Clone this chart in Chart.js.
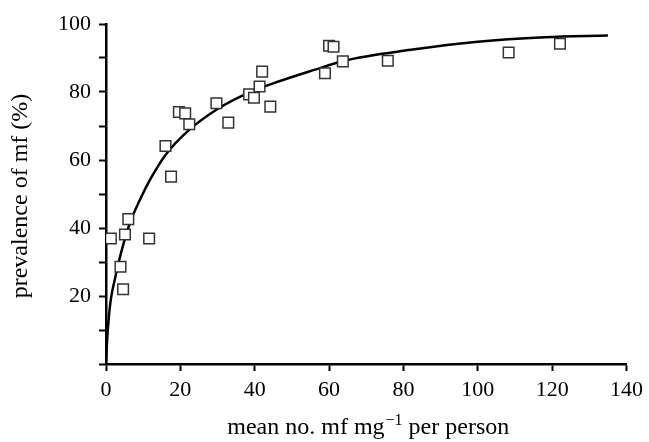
<!DOCTYPE html>
<html>
<head>
<meta charset="utf-8">
<script src="https://cdn.jsdelivr.net/npm/chart.js@4/dist/chart.umd.min.js"></script>
<style>
  html, body { margin: 0; padding: 0; background: #fff; }
  #wrap { width: 649px; height: 442px; }
</style>
</head>
<body>
<div id="wrap"><canvas id="chart" width="649" height="442"></canvas></div>
<script>
// observed villages: mean mf per mg vs prevalence (%)
const meanMf = [1.3, 3.9, 4.6, 5.1, 6.0, 11.6, 16.0, 17.5, 19.6, 21.3, 22.4, 29.7, 32.9,
  38.5, 39.8, 41.3, 42.0, 44.2, 58.9, 60.0, 61.2, 63.7, 75.8, 108.3, 122.1];
const prevalence = [36.9, 28.6, 22.0, 38.1, 42.6, 36.9, 64.1, 55.1, 74.1, 73.7, 70.5, 76.7, 71.0,
  79.3, 78.3, 81.6, 86.0, 75.7, 85.5, 93.6, 93.3, 89.0, 89.2, 91.6, 94.2];

// fitted curve
const curveX = [0, 0.3, 0.7, 1.3, 2.5, 4, 6.4, 9, 12, 16, 22, 30, 38, 47, 56, 64, 82, 100, 118, 135];
const curveY = [0, 7, 13, 19, 25.5, 32.5, 41.4, 48, 54.5, 61.5, 68.5, 75, 79.6, 83.3, 86.5, 89.2, 92.4, 94.8, 96.1, 96.6];

const xTicks = [0, 20, 40, 60, 80, 100, 120, 140];
const yTicks = [0, 20, 40, 60, 80, 100];

const serif = '"Liberation Serif", "Times New Roman", serif';

const axisTitles = {
  id: "axisTitles",
  afterDraw(chart) {
    const ctx = chart.ctx;
    ctx.save();
    ctx.fillStyle = "#000";
    ctx.textBaseline = "alphabetic";
    ctx.textAlign = "left";

    // x title, with superscript -1
    const mainFont = "24px " + serif;
    const supFont = "16px " + serif;
    const a = "mean no. mf mg";
    const sup = "\u22121";
    const b = " per person";
    ctx.font = mainFont;
    const wa = ctx.measureText(a).width;
    const wb = ctx.measureText(b).width;
    ctx.font = supFont;
    const ws = ctx.measureText(sup).width;
    const area = chart.chartArea;
    let x = (area.left + area.right) / 2 + 2 - (wa + ws + wb + 1) / 2;
    const base = 434;
    ctx.font = mainFont;
    ctx.fillText(a, x, base);
    x += wa;
    ctx.font = supFont;
    ctx.fillText(sup, x + 1, base - 9);
    x += ws + 1;
    ctx.font = mainFont;
    ctx.fillText(b, x, base);

    // y title
    ctx.translate(27, (area.top + area.bottom) / 2 + 2);
    ctx.rotate(-Math.PI / 2);
    ctx.textAlign = "center";
    ctx.font = mainFont;
    ctx.fillText("prevalence of mf (%)", 0, 0);
    ctx.restore();
  }
};

new Chart(document.getElementById("chart"), {
  type: "scatter",
  data: {
    datasets: [
      {
        label: "villages",
        data: meanMf.map((v, i) => ({ x: v, y: prevalence[i] })),
        pointStyle: "rect",
        pointRadius: 7.5,
        pointHoverRadius: 7.5,
        borderWidth: 1.5,
        borderColor: "#333",
        backgroundColor: "#fff",
        order: 0
      },
      {
        label: "fit",
        type: "line",
        data: curveX.map((v, i) => ({ x: v, y: curveY[i] })),
        borderColor: "#000",
        borderWidth: 2.5,
        pointRadius: 0,
        fill: false,
        cubicInterpolationMode: "monotone",
        order: 1
      }
    ]
  },
  options: {
    responsive: false,
    animation: false,
    events: [],
    layout: { padding: { left: 0, top: 24, right: 19, bottom: 0 } },
    plugins: {
      legend: { display: false },
      tooltip: { enabled: false }
    },
    scales: {
      x: {
        type: "linear",
        min: 0,
        max: 140,
        afterBuildTicks(scale) {
          scale.ticks = xTicks.map(v => ({ value: v }));
        },
        afterFit(scale) { scale.height = 78; },
        grid: { display: true, drawOnChartArea: false, drawTicks: true, tickLength: 7, tickColor: "#000", tickWidth: 2 },
        border: { display: true, color: "#000", width: 2.5 },
        ticks: { color: "#000", font: { family: serif, size: 22 }, padding: 6, maxRotation: 0 }
      },
      y: {
        type: "linear",
        min: 0,
        max: 100,
        ticks: {
          stepSize: 10,
          color: "#000",
          font: { family: serif, size: 22 },
          padding: 8,
          callback: v => (yTicks.includes(v) && v !== 0 ? v : "")
        },
        afterFit(scale) { scale.width = 106; },
        grid: { display: true, drawOnChartArea: false, drawTicks: true, tickLength: 7, tickColor: "#000", tickWidth: 2 },
        border: { display: true, color: "#000", width: 2.5 }
      }
    }
  },
  plugins: [axisTitles]
});
</script>
</body>
</html>
